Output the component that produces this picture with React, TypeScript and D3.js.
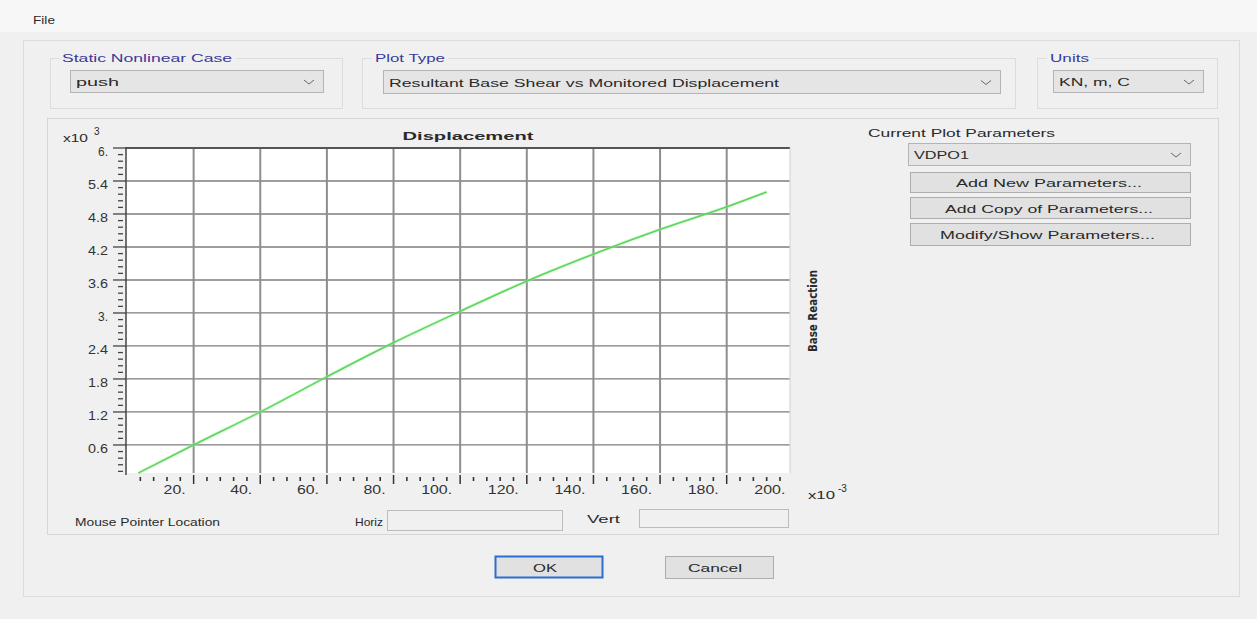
import React from "react";
import * as d3 from "d3";

// Pushover curve: monitored displacement (x10^-3 m) vs base reaction (x10^3 KN)
const dispValues = [3.4, 20, 40, 60, 80, 100, 120, 140, 160, 180, 192];
const shearValues = [0.09, 0.6, 1.2, 1.84, 2.46, 3.03, 3.58, 4.07, 4.52, 4.93, 5.2];

const xTicks = [20, 40, 60, 80, 100, 120, 140, 160, 180, 200];
const xTickLabels = ["20.", "40.", "60.", "80.", "100.", "120.", "140.", "160.", "180.", "200."];
const yTicks = [0.6, 1.2, 1.8, 2.4, 3.0, 3.6, 4.2, 4.8, 5.4, 6.0];
const yTickLabels = ["0.6", "1.2", "1.8", "2.4", "3.", "3.6", "4.2", "4.8", "5.4", "6."];

const FONT = "'Liberation Sans', Arial, sans-serif";

type TP = {
  x: number; y: number; w?: number; size?: number; anchor?: string;
  weight?: string | number; fill?: string; transform?: string; family?: string;
  children: React.ReactNode;
};
function T({ x, y, w, size = 11, anchor = "start", weight = "normal", fill = "#2a2a2a", transform, family = FONT, children }: TP) {
  return (
    <text x={x} y={y} fontSize={size} fontFamily={family} fontWeight={weight} fill={fill}
      textAnchor={anchor as any} dominantBaseline="central" transform={transform}
      {...(w ? { textLength: w, lengthAdjust: "spacingAndGlyphs" } : {})}>
      {children}
    </text>
  );
}

function Chevron({ x, y }: { x: number; y: number }) {
  return <path d={`M${x - 5},${y - 2} L${x},${y + 2} L${x + 5},${y - 2}`} fill="none" stroke="#666" strokeWidth={1} />;
}

function Combo({ x, y, w, h, text, tw }: { x: number; y: number; w: number; h: number; text: string; tw: number }) {
  return (
    <g>
      <rect x={x + 0.5} y={y + 0.5} width={w} height={h} fill="#e5e5e5" stroke="#b4b4b4" />
      <T x={x + 6} y={y + h / 2 + 1} w={tw}>{text}</T>
      <Chevron x={x + w - 14} y={y + h / 2 + 1} />
    </g>
  );
}

function Button({ x, y, w, h, text, tx, tw, blue }: { x: number; y: number; w: number; h: number; text: string; tx: number; tw: number; blue?: boolean }) {
  return (
    <g>
      <rect x={x + 0.5} y={y + 0.5} width={w} height={h} fill="#e1e1e1" stroke={blue ? "#2a6fd0" : "#adadad"} strokeWidth={blue ? 2 : 1} />
      <T x={tx} y={y + h / 2 + 1} w={tw}>{text}</T>
    </g>
  );
}

export default function App() {
  const W = 1257, H = 619;
  const left = 126, right = 790, top = 148, bottom = 473;
  const x = d3.scaleLinear().domain([-0.3, 199]).range([left, right]);
  const y = d3.scaleLinear().domain([0.09, 6.0]).range([bottom, top]);

  const pts = dispValues.map((d, i) => [d, shearValues[i]] as [number, number]);
  const line = d3.line<[number, number]>().x(d => x(d[0])).y(d => y(d[1])).curve(d3.curveMonotoneX);

  const xMinor = d3.range(4, 199, 4).filter(v => v % 20 !== 0);
  const yMinor = d3.range(0.12, 6.0, 0.12).filter(v => Math.abs(v / 0.6 - Math.round(v / 0.6)) > 0.01);
  const xMajorIn = xTicks.filter(v => x(v) <= right);

  return (
    <svg width={W} height={H} style={{ position: "absolute", left: 0, top: 0, display: "block" }}>
      <rect x={0} y={0} width={W} height={H} fill="#f0f0f0" />
      <rect x={0} y={0} width={W} height={32} fill="#f7f7f7" />
      <T x={33} y={20} w={22}>File</T>

      {/* outer panel */}
      <rect x={23.5} y={40.5} width={1216} height={556} fill="none" stroke="#dcdcdc" />

      {/* group boxes */}
      <rect x={50.5} y={58.5} width={292} height={50} fill="none" stroke="#dcdcdc" />
      <rect x={60} y={52} width={176} height={12} fill="#f0f0f0" />
      <T x={62} y={58} w={170} fill="#3a3a9a">Static Nonlinear Case</T>
      <Combo x={70} y={70} w={253} h={22} text="push" tw={43} />

      <rect x={362.5} y={58.5} width={653} height={50} fill="none" stroke="#dcdcdc" />
      <rect x={372} y={52} width={76} height={12} fill="#f0f0f0" />
      <T x={375} y={58} w={70} fill="#3a3a9a">Plot Type</T>
      <Combo x={383} y={70} w={617} h={23} text="Resultant Base Shear vs Monitored Displacement" tw={390} />

      <rect x={1037.5} y={58.5} width={180} height={50} fill="none" stroke="#dcdcdc" />
      <rect x={1047} y={52} width={46} height={12} fill="#f0f0f0" />
      <T x={1050} y={58} w={39} fill="#3a3a9a">Units</T>
      <Combo x={1053} y={70} w={150} h={22} text="KN, m, C" tw={71} />

      {/* plot panel */}
      <rect x={47.5} y={118.5} width={1171} height={416} fill="none" stroke="#d6d6d6" />

      {/* plot area */}
      <rect x={left} y={top} width={right - left} height={bottom - top} fill="#ffffff" />
      {yTicks.map(v => (
        <line key={"hg" + v} x1={left} x2={right} y1={y(v)} y2={y(v)} stroke="#7d7d7d" strokeWidth={1.3} />
      ))}
      {xMajorIn.map(v => (
        <line key={"vg" + v} x1={x(v)} x2={x(v)} y1={top} y2={bottom} stroke="#8e8e8e" strokeWidth={2} />
      ))}
      <line x1={left} x2={right} y1={top} y2={top} stroke="#555" strokeWidth={2} />
      <line x1={right} x2={right} y1={top} y2={bottom} stroke="#d0d0d0" strokeWidth={1} />
      <line x1={left} x2={left} y1={top - 1} y2={bottom + 2} stroke="#444" strokeWidth={1.5} />

      {/* y axis ticks */}
      {yTicks.map(v => (
        <line key={"yt" + v} x1={left - 13} x2={left} y1={y(v)} y2={y(v)} stroke="#444" strokeWidth={1.3} />
      ))}
      {yMinor.map(v => (
        <line key={"ym" + v} x1={left - 8} x2={left - 3} y1={y(v)} y2={y(v)} stroke="#444" strokeWidth={1.3} />
      ))}
      {yTicks.map((v, i) => (
        <T key={"yl" + v} x={108} y={y(v) + 4} anchor="end" size={12} fill="#333"
          w={yTickLabels[i].length === 2 ? 10 : 20}>{yTickLabels[i]}</T>
      ))}

      {/* x axis ticks */}
      {xMajorIn.map(v => (
        <line key={"xt" + v} x1={x(v)} x2={x(v)} y1={bottom + 2} y2={bottom + 11} stroke="#333" strokeWidth={1.5} />
      ))}
      {xMinor.map(v => (
        <line key={"xm" + v} x1={x(v)} x2={x(v)} y1={bottom + 4} y2={bottom + 8} stroke="#333" strokeWidth={1.6} />
      ))}
      {xTicks.map((v, i) => (
        <T key={"xl" + v} x={x(v) - 8} y={490} anchor="end" size={12} fill="#333"
          w={xTickLabels[i].length === 3 ? 22 : 31}>{xTickLabels[i]}</T>
      ))}

      {/* curve */}
      <path d={line(pts) || ""} fill="none" stroke="#9af09a" strokeWidth={3} opacity={0.6} />
      <path d={line(pts) || ""} fill="none" stroke="#55d055" strokeWidth={1.3} />

      {/* axis annotations */}
      <T x={63} y={138} w={25} size={11}>x10</T>
      <T x={94} y={131} size={10}>3</T>
      <T x={468} y={136} anchor="middle" w={131} weight="bold" size={11}>Displacement</T>
      <T x={808} y={495} w={27} size={11}>x10</T>
      <T x={838} y={488} size={10}>-3</T>
      <T x={813} y={311} anchor="middle" w={82} weight="bold" size={12}
        family="'Liberation Sans Narrow', 'DejaVu Sans Condensed', sans-serif"
        transform="rotate(-90 813 311)">Base Reaction</T>

      {/* right panel */}
      <T x={868} y={133} w={187}>Current Plot Parameters</T>
      <Combo x={908} y={143} w={282} h={22} text="VDPO1" tw={55} />
      <Button x={910} y={172} w={280} h={20} text="Add New Parameters..." tx={956} tw={186} />
      <Button x={910} y={197} w={280} h={21} text="Add Copy of Parameters..." tx={945} tw={208} />
      <Button x={910} y={223} w={280} h={22} text="Modify/Show Parameters..." tx={940} tw={215} />

      {/* mouse pointer location */}
      <T x={75} y={522} w={145}>Mouse Pointer Location</T>
      <T x={355} y={522} w={28}>Horiz</T>
      <rect x={387.5} y={510.5} width={175} height={20} fill="#f0f0f0" stroke="#bcbcbc" />
      <T x={587} y={519} w={33}>Vert</T>
      <rect x={639.5} y={509.5} width={149} height={18} fill="#f0f0f0" stroke="#bcbcbc" />

      {/* buttons */}
      <Button x={495} y={556} w={107} h={21} text="OK" tx={533} tw={24} blue />
      <Button x={665} y={556} w={108} h={22} text="Cancel" tx={688} tw={54} />
    </svg>
  );
}
